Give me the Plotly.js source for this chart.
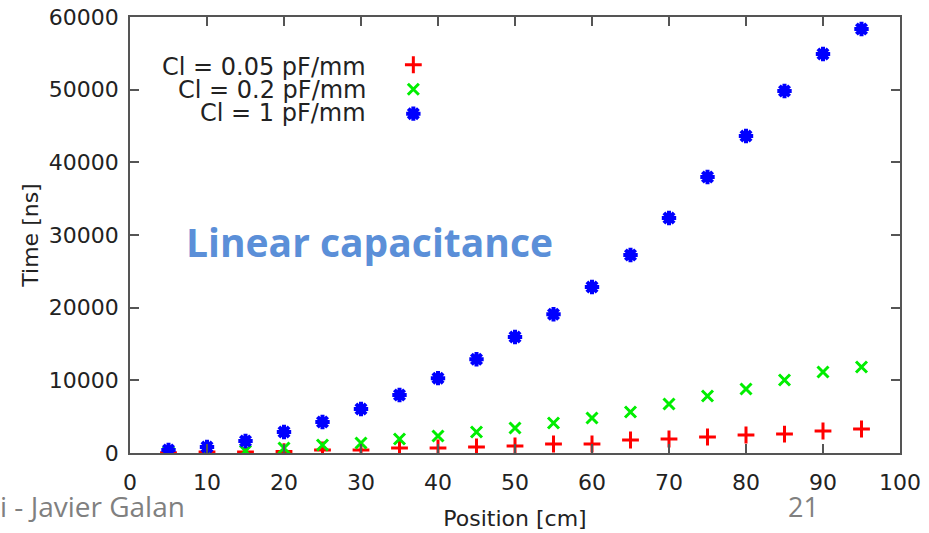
<!DOCTYPE html>
<html>
<head>
<meta charset="utf-8">
<script src="https://cdn.plot.ly/plotly-3.0.1.min.js"></script>
<style>html,body{margin:0;padding:0;background:#fff;}#chart{width:929px;height:533px;}</style>
</head>
<body>
<div id="chart"></div>
<script>
// Data
var position = [5, 10, 15, 20, 25, 30, 35, 40, 45, 50, 55, 60, 65, 70, 75, 80, 85, 90, 95];
var time_cl005 = [50, 150, 140, 200, 410, 410, 690, 690, 830, 960, 1240, 1240, 1790, 1930, 2200, 2480, 2610, 3030, 3300];
var time_cl02 = [100, 150, 280, 690, 1100, 1380, 1930, 2340, 2890, 3440, 4130, 4820, 5640, 6740, 7840, 8800, 10040, 11150, 11830];
var time_cl1 = [410, 830, 1650, 2890, 4260, 6050, 7980, 10300, 12900, 15960, 19100, 22840, 27250, 32340, 37980, 43620, 49810, 54900, 58340];
var seriesNames = ["Cl = 0.05 pF/mm", "Cl = 0.2 pF/mm", "Cl = 1 pF/mm"];
var xTicks = [0, 10, 20, 30, 40, 50, 60, 70, 80, 90, 100];
var yTicks = [0, 10000, 20000, 30000, 40000, 50000, 60000];

var font = "DejaVu Sans, sans-serif";
var axisColor = "#555555";

var traces = [
  {x: position, y: time_cl005, type: "scatter", mode: "markers", name: " ",
   marker: {symbol: "cross-thin", size: 12, color: "#ff0000", line: {color: "#ff0000", width: 3}}},
  {x: position, y: time_cl02, type: "scatter", mode: "markers", name: " ",
   marker: {symbol: "x-thin", size: 11, color: "#00ee00", line: {color: "#00ee00", width: 3}}},
  {x: position, y: time_cl1, type: "scatter", mode: "markers", name: " ",
   marker: {symbol: "asterisk", size: 12, color: "#0000ff", line: {color: "#0000ff", width: 4}}}
];

var axisCommon = {
  showline: true, linecolor: axisColor, linewidth: 1.5, mirror: "ticks",
  ticks: "inside", ticklen: 9, tickwidth: 1.5, tickcolor: axisColor,
  showgrid: false, zeroline: false,
  tickfont: {family: font, size: 22, color: "#222222"}
};

var layout = {
  width: 929, height: 533,
  margin: {l: 130, r: 29, t: 17, b: 80},
  paper_bgcolor: "#ffffff", plot_bgcolor: "#ffffff",
  showlegend: true,
  legend: {x: 0.342, y: 0.93, xanchor: "left", yanchor: "top",
           font: {family: font, size: 16.5}, bgcolor: "rgba(0,0,0,0)", tracegroupgap: 0},
  xaxis: Object.assign({}, axisCommon, {
    range: [0, 100], tickvals: xTicks, ticktext: xTicks.map(String),
    ticklabelstandoff: 9,
    title: {text: "Position [cm]", font: {family: font, size: 22, color: "#222222"}, standoff: 16}
  }),
  yaxis: Object.assign({}, axisCommon, {
    range: [0, 60000], tickvals: yTicks, ticktext: yTicks.map(String),
    ticklabelstandoff: 5,
    title: {text: "Time [ns]", font: {family: font, size: 22, color: "#222222"}, standoff: 4}
  }),
  annotations: [
    {xref: "paper", yref: "paper", x: 0.309, y: 0.885, xanchor: "right", yanchor: "middle",
     text: seriesNames[0], showarrow: false, font: {family: font, size: 24, color: "#222222"}},
    {xref: "paper", yref: "paper", x: 0.309, y: 0.832, xanchor: "right", yanchor: "middle",
     text: seriesNames[1], showarrow: false, font: {family: font, size: 24, color: "#222222"}},
    {xref: "paper", yref: "paper", x: 0.309, y: 0.779, xanchor: "right", yanchor: "middle",
     text: seriesNames[2], showarrow: false, font: {family: font, size: 24, color: "#222222"}},
    {xref: "paper", yref: "paper", x: 0.07, y: 0.485, xanchor: "left", yanchor: "middle",
     text: "<b>Linear capacitance</b>", showarrow: false,
     font: {family: "Open Sans, sans-serif", size: 39, color: "#5b8fd8"}},
    {xref: "paper", yref: "paper", x: -0.171, y: -0.121, xanchor: "left", yanchor: "middle",
     text: "i - Javier Galan", showarrow: false,
     font: {family: "Open Sans, sans-serif", size: 28, color: "#808080"}},
    {xref: "paper", yref: "paper", x: 0.875, y: -0.123, xanchor: "center", yanchor: "middle",
     text: "21", showarrow: false,
     font: {family: "Open Sans, sans-serif", size: 27, color: "#808080"}}
  ]
};

Plotly.newPlot("chart", traces, layout, {displayModeBar: false, responsive: false});
</script>
</body>
</html>
